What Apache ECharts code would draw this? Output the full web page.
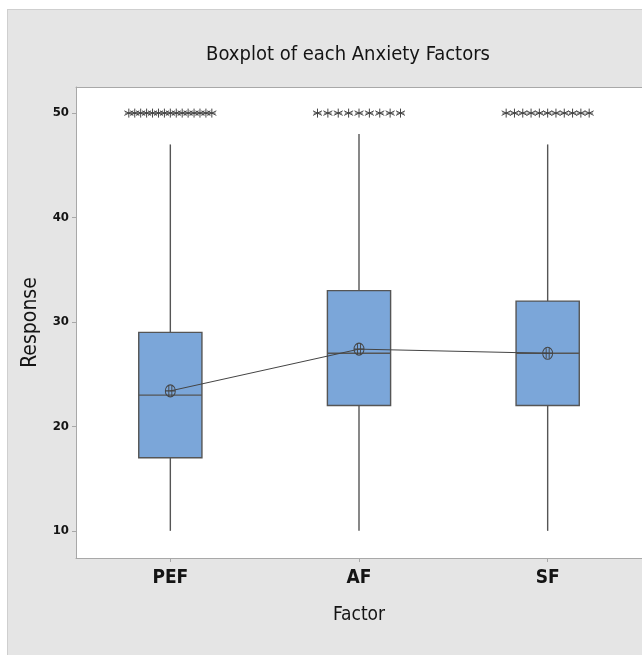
<!DOCTYPE html>
<html>
<head>
<meta charset="utf-8">
<script src="https://cdn.jsdelivr.net/npm/echarts@6/dist/echarts.min.js"></script>
<style>
  html, body { margin: 0; padding: 0; background: #ffffff; }
  #panel { position: absolute; left: 7px; top: 9px; width: 635px; height: 646px;
           background: #e5e5e5; border-left: 1px solid #cfcfcf; border-top: 1px solid #cfcfcf; }
  #chart { position: absolute; left: 0; top: 0; width: 634px; height: 645px; }
</style>
</head>
<body>
<div id="panel"><div id="chart"></div></div>
<script>
// ---- data ----
const categories   = ['PEF', 'AF', 'SF'];
const whiskerLow   = [10, 10, 10];
const q1           = [17, 22, 22];
const median       = [23, 27, 27];
const q3           = [29, 33, 32];
const whiskerHigh  = [47, 48, 47];
const means        = [23.4, 27.4, 27.0];
const outlierValue = [50, 50, 50];
const outlierCount = [15, 9, 11];
const yTicks       = [10, 20, 30, 40, 50];

const FONT = "'Liberation Sans Narrow', 'DejaVu Sans Condensed', 'Noto Sans', sans-serif";
const TXT = '#141414';
const AXC = '#a8a8a8';

const boxData = categories.map((c, i) => [i, whiskerLow[i], q1[i], median[i], q3[i], whiskerHigh[i]]);

const outlierData = [];
const spread = 0.44;
categories.forEach((c, i) => {
  const n = outlierCount[i];
  for (let k = 0; k < n; k++) {
    const off = n > 1 ? (k / (n - 1) - 0.5) * spread : 0;
    outlierData.push([i + off, outlierValue[i]]);
  }
});

const asterisk = 'path://M5 0L5 10M0.7 2.5L9.3 7.5M0.7 7.5L9.3 2.5M1.5 5L8.5 5';
const meanSym = 'path://M0 6A5 6 0 1 1 10 6A5 6 0 1 1 0 6ZM3.5 1L3.5 11M6.5 1L6.5 11M0 6L10 6';

const chart = echarts.init(document.getElementById('chart'));
chart.setOption({
  animation: false,
  backgroundColor: 'transparent',
  title: {
    text: 'Boxplot of each Anxiety Factors',
    left: 335, top: 30, textAlign: 'center',
    textStyle: { fontFamily: FONT, fontSize: 20, fontWeight: 500, color: TXT }
  },
  grid: {
    left: 68, top: 77, width: 571, height: 471,
    show: true, backgroundColor: '#ffffff', borderWidth: 0
  },
  xAxis: [{
    type: 'category', data: categories, boundaryGap: true, position: 'bottom',
    name: 'Factor', nameLocation: 'middle', nameGap: 48,
    nameTextStyle: { fontFamily: FONT, fontSize: 19, color: TXT },
    axisLine: { show: true, onZero: false, lineStyle: { color: AXC, width: 1 } },
    axisTick: { show: true, alignWithLabel: true, length: 4, lineStyle: { color: AXC } },
    axisLabel: { margin: 11, fontFamily: FONT, fontSize: 19, fontWeight: 'bold', color: TXT },
    splitLine: { show: false }
  }, {
    type: 'value', min: -0.5, max: 2.5, position: 'top',
    axisLine: { show: true, onZero: false, lineStyle: { color: AXC, width: 1 } },
    axisTick: { show: false }, axisLabel: { show: false }, splitLine: { show: false }
  }],
  yAxis: {
    type: 'value', min: 7.4, max: 52.5,
    name: 'Response', nameLocation: 'middle', nameGap: 35, nameRotate: 90,
    nameTextStyle: { fontFamily: FONT, fontSize: 21, color: TXT },
    axisLine: { show: true, onZero: false, lineStyle: { color: AXC, width: 1 } },
    axisTick: { show: true, length: 4, customValues: yTicks, lineStyle: { color: AXC } },
    axisLabel: { margin: 7, customValues: yTicks, fontFamily: FONT, fontSize: 13, fontWeight: 'bold', color: TXT },
    splitLine: { show: false }
  },
  series: [{
    type: 'custom',
    xAxisIndex: 0,
    data: boxData,
    encode: { x: 0, y: [1, 2, 3, 4, 5] },
    renderItem: function (params, api) {
      const idx = api.value(0);
      const pLow = api.coord([idx, api.value(1)]);
      const pQ1 = api.coord([idx, api.value(2)]);
      const pMed = api.coord([idx, api.value(3)]);
      const pQ3 = api.coord([idx, api.value(4)]);
      const pHigh = api.coord([idx, api.value(5)]);
      const bw = api.size([1, 0])[0] * 0.335;
      const x0 = pQ1[0] - bw / 2;
      const stroke = { stroke: '#555555', lineWidth: 1.4 };
      return {
        type: 'group',
        children: [
          { type: 'line', shape: { x1: pLow[0], y1: pLow[1], x2: pQ1[0], y2: pQ1[1] }, style: stroke },
          { type: 'line', shape: { x1: pQ3[0], y1: pQ3[1], x2: pHigh[0], y2: pHigh[1] }, style: stroke },
          { type: 'rect', shape: { x: x0, y: pQ3[1], width: bw, height: pQ1[1] - pQ3[1] },
            style: { fill: '#7ba6d9', stroke: '#555555', lineWidth: 1.4 } },
          { type: 'line', shape: { x1: x0, y1: pMed[1], x2: x0 + bw, y2: pMed[1] }, style: stroke }
        ]
      };
    },
    z: 2
  }, {
    type: 'line',
    xAxisIndex: 0,
    data: means,
    symbol: meanSym,
    symbolSize: [10, 12],
    showAllSymbol: true,
    lineStyle: { color: '#444444', width: 1 },
    itemStyle: { color: 'rgba(0,0,0,0)', borderColor: '#444444', borderWidth: 1 },
    z: 3
  }, {
    type: 'scatter',
    xAxisIndex: 1,
    data: outlierData,
    symbol: asterisk,
    symbolSize: 9,
    itemStyle: { color: 'rgba(0,0,0,0)', borderColor: '#444444', borderWidth: 1, opacity: 1 },
    z: 4
  }]
});
</script>
</body>
</html>
